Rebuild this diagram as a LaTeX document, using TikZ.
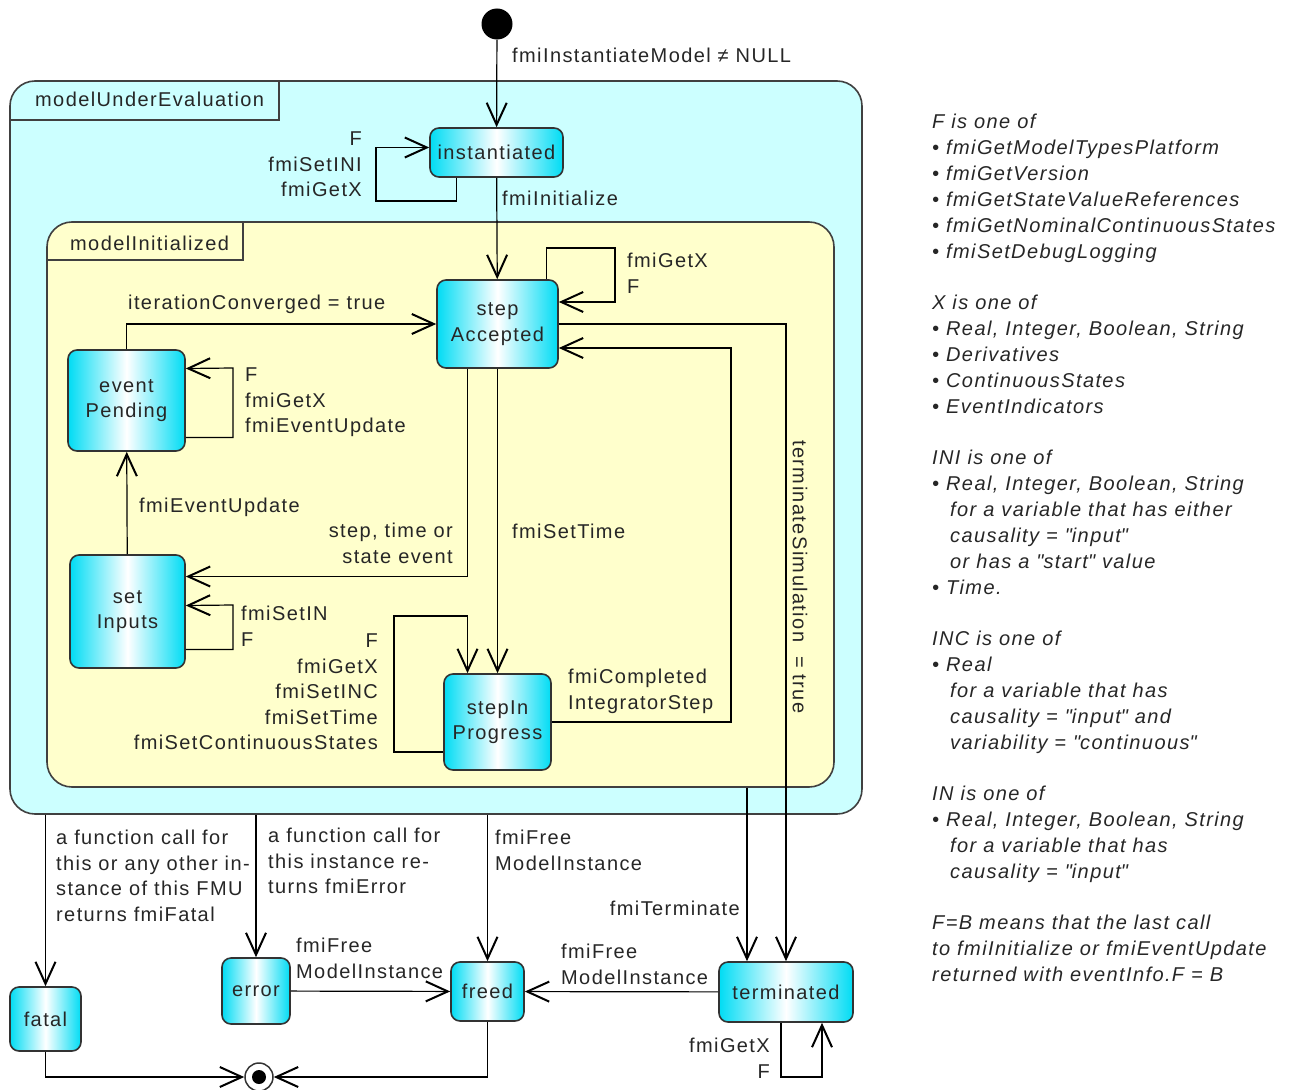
\documentclass[tikz,border=0pt]{standalone}
\usepackage{fontspec}
\setmainfont{Liberation Sans}[LetterSpace=7]
\newfontfamily\qfont{Liberation Sans}[LetterSpace=7]
\usetikzlibrary{arrows.meta}
\definecolor{evalbg}{HTML}{CCFFFF}
\definecolor{initbg}{HTML}{FFFFCC}
\definecolor{stcyan}{HTML}{00DCF4}
\newcommand{\dq}{{\qfont\itshape"}}
\begin{document}
\begin{tikzpicture}[x=1pt, y=-1pt,
        every node/.style={font=\fontsize{20}{25.5}\selectfont, inner sep=0pt, text=black!85},
        state/.style={draw=black!80, line width=1.6pt, rounded corners=9pt,
            left color=stcyan, right color=stcyan, middle color=white, align=center},
        region/.style={draw=black!75, line width=1.6pt, rounded corners=25pt},
        tr/.style={line width=1.2pt, -{Straight Barb[length=22pt,width=20pt,line width=2pt]}},
        lbl/.style={align=left, anchor=north west},
        rlbl/.style={align=right, anchor=north east},
        note/.style={align=left, anchor=north west, font=\fontsize{20}{26}\selectfont\itshape}
    ]
        \useasboundingbox (0,0) rectangle (1295,1089);

        % Regionen
        \node[region, fill=evalbg, minimum width=852pt, minimum height=733pt] (eval) at (436,447.5) {};
        \draw[line width=1.6pt, draw=black!75] ([yshift=-40pt]eval.north west) -| ([xshift=270pt]eval.north west);
        \node[lbl] (evalname) at (35,92) {modelUnderEvaluation};
        \node[region, fill=initbg, minimum width=787pt, minimum height=565pt] (initd) at (440.5,504.5) {};
        \draw[line width=1.6pt, draw=black!75] ([yshift=-39pt]initd.north west) -| ([xshift=197pt]initd.north west);
        \node[lbl] (initdname) at (70,236) {modelInitialized};

        % Zustaende
        \node[circle, fill=black, minimum size=31pt] (start) at (497,24) {};
        \node[state, minimum width=133pt, minimum height=49pt] (inst) at (496.5,152.5) {instantiated};
        \node[state, minimum width=121pt, minimum height=88pt] (acc) at (497.5,324) {step\\Accepted};
        \node[state, minimum width=117pt, minimum height=101pt] (evt) at (126.5,400.5) {event\\Pending};
        \node[state, minimum width=115pt, minimum height=113pt] (inp) at (127.5,611.5) {set\\Inputs};
        \node[state, minimum width=107pt, minimum height=96pt] (prog) at (497.5,722) {stepIn\\Progress};
        \node[state, minimum width=71pt, minimum height=64pt] (fatal) at (45.5,1019) {fatal};
        \node[state, minimum width=68pt, minimum height=66pt] (err) at (256,991) {error};
        \node[state, minimum width=73pt, minimum height=59pt] (freed) at (487.5,991.5) {freed};
        \node[state, minimum width=134pt, minimum height=60pt] (term) at (786,992) {terminated};
        \node[circle, draw=black!80, line width=1.5pt, fill=white, minimum size=28pt] (final) at (259,1077) {};
        \fill (final) circle (7pt);

        % Uebergaenge
        \draw[tr] (start) -- (inst);
        \draw[tr] ([xshift=-40pt]inst.south) |- (376,201) |- ([yshift=5pt]inst.west);
        \draw[tr] (inst) -- (acc);
        \draw[tr] ([xshift=49pt]acc.north) |- (615,248) |- ([yshift=22pt]acc.east);
        \draw[tr] (evt.north) |- (acc.west);
        \draw[tr] ([yshift=-37pt]evt.east) -| (233,368) -- ([yshift=32pt]evt.east);
        \draw[tr] (inp) -- (evt);
        \draw[tr] ([xshift=-30pt]acc.south) |- ([yshift=35pt]inp.east);
        \draw[tr] ([yshift=-38pt]inp.east) -| (233,605) -- ([yshift=6pt]inp.east);
        \draw[tr] (acc) -- (prog);
        \draw[tr] ([yshift=-30pt]prog.west) -| (394,616) -| ([xshift=-30pt]prog.north);
        \draw[tr] (prog.east) -| (731,348) -- ([yshift=-24pt]acc.east);
        \draw[tr] (acc.east) -| (term.north);
        \coordinate (tx) at ([xshift=-39pt]term.north);
        \draw[tr] (tx |- initd.south) -- (tx);
        \draw[tr] (fatal.north |- eval.south) -- (fatal);
        \draw[tr] (err.north |- eval.south) -- (err);
        \draw[tr] (freed.north |- eval.south) -- (freed);
        \draw[tr] (err) -- (freed);
        \draw[tr] (term) -- (freed);
        \draw[tr] ([xshift=-5pt]term.south) |- (822,1077) -- ([xshift=36pt]term.south);
        \draw[tr] (fatal.south) |- (final.west);
        \draw[tr] (freed.south) |- (final.east);

        % Beschriftungen
        \node[lbl] (lstart) at (512,48) {fmiInstantiateModel ≠ NULL};
        \node[rlbl] (linst) at (362,132) {F\\fmiSetINI\\fmiGetX};
        \node[lbl] (linit) at (502,191) {fmiInitialize};
        \node[lbl] (lacc) at (627,253) {fmiGetX\\F};
        \node[lbl] (lconv) at (128,295) {iterationConverged = true};
        \node[lbl] (levt) at (245,368) {F\\fmiGetX\\fmiEventUpdate};
        \node[lbl] (lupd) at (139,498) {fmiEventUpdate};
        \node[rlbl] (lstep) at (453,523) {step, time or\\state event};
        \node[lbl] (ltime) at (512,524) {fmiSetTime};
        \node[lbl] (linp) at (241,606) {fmiSetIN\\F};
        \node[rlbl] (lprog) at (378,634) {F\\fmiGetX\\fmiSetINC\\fmiSetTime\\fmiSetContinuousStates};
        \node[lbl] (lcompl) at (568,669) {fmiCompleted\\IntegratorStep};
        \node[rotate=-90] (lsim) at (800,577) {terminateSimulation ~= true};
        \node[lbl] (lfatal) at (56,830) {a function call for\\this or any other in-\\stance of this FMU\\returns fmiFatal};
        \node[lbl] (lerr) at (268,828) {a function call for\\this instance re-\\turns fmiError};
        \node[lbl] (lfree) at (495,830) {fmiFree\\ModelInstance};
        \node[rlbl] (lterm) at (740,901) {fmiTerminate};
        \node[lbl] (lerrfree) at (296,938) {fmiFree\\ModelInstance};
        \node[lbl] (ltermfree) at (561,944) {fmiFree\\ModelInstance};
        \node[rlbl] (ltermloop) at (770,1038) {fmiGetX\\F};

        % Erlaeuterungen
        \node[note] (nF) at (932,114) {F is one of\\\textbullet\ fmiGetModelTypesPlatform\\\textbullet\ fmiGetVersion\\\textbullet\ fmiGetStateValueReferences\\\textbullet\ fmiGetNominalContinuousStates\\\textbullet\ fmiSetDebugLogging};
        \node[note] (nX) at (932,295) {X is one of\\\textbullet\ Real, Integer, Boolean, String\\\textbullet\ Derivatives\\\textbullet\ ContinuousStates\\\textbullet\ EventIndicators};
        \node[note] (nINI) at (932,450) {INI is one of\\\textbullet\ Real, Integer, Boolean, String\\\hspace*{18pt}for a variable that has either\\\hspace*{18pt}causality = \dq input\dq\\\hspace*{18pt}or has a \dq start\dq\ value\\\textbullet\ Time.};
        \node[note] (nINC) at (932,631) {INC is one of\\\textbullet\ Real\\\hspace*{18pt}for a variable that has\\\hspace*{18pt}causality = \dq input\dq\ and\\\hspace*{18pt}variability = \dq continuous\dq};
        \node[note] (nIN) at (932,786) {IN is one of\\\textbullet\ Real, Integer, Boolean, String\\\hspace*{18pt}for a variable that has\\\hspace*{18pt}causality = \dq input\dq};
        \node[note] (nFB) at (932,915) {F=B means that the last call\\to fmiInitialize or fmiEventUpdate\\returned with eventInfo.F = B};
    \end{tikzpicture}
\end{document}
